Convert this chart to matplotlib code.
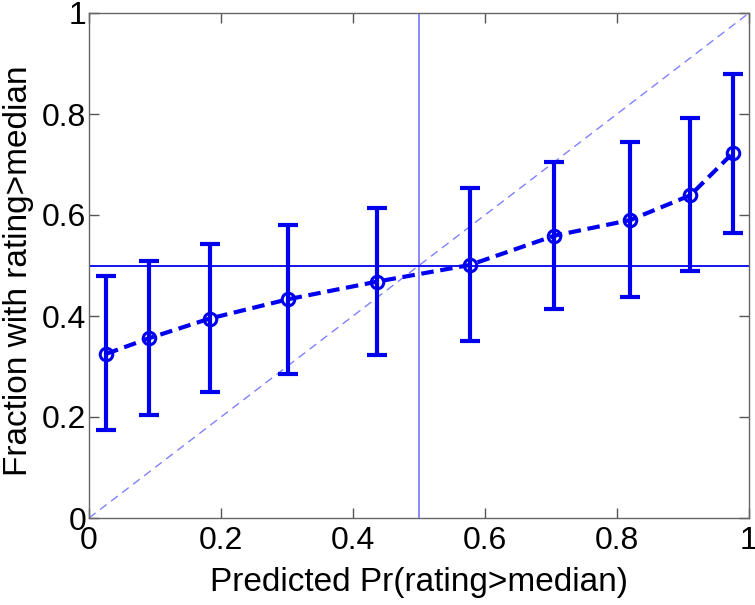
import matplotlib.pyplot as plt

plt.rcParams['font.family'] = ['Liberation Sans', 'DejaVu Sans']

# binned predictions vs observed fraction
pred = [0.026, 0.091, 0.183, 0.301, 0.436, 0.577, 0.705, 0.820, 0.911, 0.975]
frac = [0.325, 0.356, 0.395, 0.433, 0.468, 0.501, 0.559, 0.590, 0.639, 0.722]
lo = [0.174, 0.204, 0.249, 0.286, 0.322, 0.351, 0.414, 0.438, 0.489, 0.565]
hi = [0.479, 0.508, 0.543, 0.581, 0.614, 0.653, 0.705, 0.745, 0.792, 0.880]

yerr = [[f - l for f, l in zip(frac, lo)], [h - f for f, h in zip(frac, hi)]]

fig = plt.figure(figsize=(7.55, 6.05), dpi=100)
ax = fig.add_axes([89/755, 87/605, 660/755, 505/605])

ax.plot([0, 1], [0, 1], color='#8080ff', lw=1, dashes=(6, 4))
ax.axvline(0.5, color='#8080ff', lw=1.3)
ax.axhline(0.5, color='#0000ee', lw=1.3)

ax.errorbar(pred, frac, yerr=yerr, fmt='none', ecolor='#0000ee',
            elinewidth=3, capsize=7, capthick=3)
ax.plot(pred, frac, color='#0000ee', lw=3, dashes=(3, 1.6),
        marker='o', ms=9, mfc='none', mew=2.2)

ax.set_xlim(0, 1)
ax.set_ylim(0, 1)
ticks = [0, 0.2, 0.4, 0.6, 0.8, 1]
ticklabels = ['0', '0.2', '0.4', '0.6', '0.8', '1']
ax.set_xticks(ticks)
ax.set_xticklabels(ticklabels)
ax.set_yticks(ticks)
ax.set_yticklabels(ticklabels)
ax.tick_params(direction='in', length=7, width=1, color='#555555',
               labelsize=23, top=True, right=True)
ax.tick_params(axis='x', pad=6)
ax.tick_params(axis='y', pad=2)
for s in ax.spines.values():
    s.set_color('#666666')
    s.set_linewidth(1)

ax.set_xlabel('Predicted Pr(rating>median)', fontsize=24, labelpad=8)
ax.set_ylabel('Fraction with rating>median', fontsize=24)
ax.yaxis.set_label_coords(-0.083, 0.49)

fig.savefig('out.png', dpi=100)
